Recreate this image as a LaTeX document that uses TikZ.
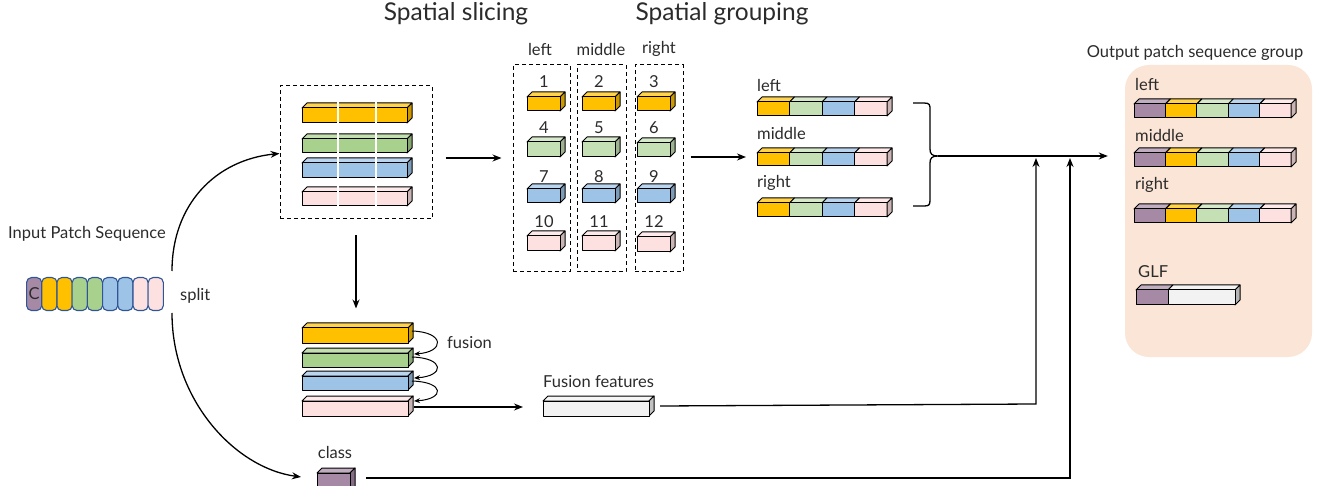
\documentclass[tikz,border=0pt]{standalone}
\usepackage{fontspec}
\setmainfont{Lato}
\usetikzlibrary{arrows.meta,fit}
\definecolor{cY}{HTML}{FFC000}
\definecolor{cG}{HTML}{A9D18E}
\definecolor{cGl}{HTML}{C5E0B4}
\definecolor{cB}{HTML}{9DC3E6}
\definecolor{cP}{HTML}{FDE1E1}
\definecolor{cU}{HTML}{A68AA5}
\definecolor{cW}{HTML}{F2F2F2}
\definecolor{panel}{HTML}{FBE5D6}
\definecolor{pillb}{HTML}{2F5597}
\definecolor{txt}{HTML}{2B2B2B}
\tikzset{
  cubeline/.style={draw=black, line width=1pt, line join=round},
  arr/.style={-{Stealth[length=9pt,width=7pt]}, line width=1.3pt},
  sarr/.style={-{Stealth[length=6pt,width=5pt]}, line width=1pt},
  dbox/.style={draw, line width=1pt, dash pattern=on 4pt off 3pt, inner sep=0pt},
  pill/.style={draw=pillb, line width=1.1pt, rounded corners=5pt, inner sep=0pt, minimum width=15.2pt, minimum height=33pt, anchor=north west},
  lbl/.style={font=\fontsize{16.5}{19}\selectfont, text=txt, inner sep=0pt},
}
% cuboid: name, x1, y1, x2, y2, colour
\newcommand{\cub}[6]{%
  \filldraw[cubeline, fill=#6!70!white] (#2,#3) -- (#2+5,#3-5) -- (#4+5,#3-5) -- (#4,#3) -- cycle;
  \filldraw[cubeline, fill=#6!80!black] (#4,#3) -- (#4+5,#3-5) -- (#4+5,#5-5) -- (#4,#5) -- cycle;
  \filldraw[cubeline, fill=#6] (#2,#3) rectangle (#4,#5);
  \node[inner sep=0pt, fit={(#2,#3) (#4+5,#5)}] (#1) {};
}
% segmented bar: name, x, y, segment width, height, colours
\newcommand{\segbar}[6]{%
  \foreach \c [count=\i from 0] in {#6}{%
    \pgfmathsetmacro\xa{#2+\i*#4}%
    \pgfmathsetmacro\xb{#2+(\i+1)*#4}%
    \filldraw[cubeline, fill=\c!70!white] (\xa,#3) -- (\xa+5,#3-5) -- (\xb+5,#3-5) -- (\xb,#3) -- cycle;
    \filldraw[cubeline, fill=\c] (\xa,#3) rectangle (\xb,#3+#5);
    \xdef\lastx{\xb}\xdef\lastc{\c}%
  }%
  \filldraw[cubeline, fill=\lastc!80!black] (\lastx,#3) -- (\lastx+5,#3-5) -- (\lastx+5,#3+#5-5) -- (\lastx,#3+#5) -- cycle;
  \node[inner sep=0pt, fit={(#2,#3) (\lastx+5,#3+#5)}] (#1) {};
}
\begin{document}
\begin{tikzpicture}[x=1pt,y=-1pt]
\useasboundingbox (0,0) rectangle (1320,486);

% titles
\node[lbl, font=\fontsize{24.5}{28}\selectfont] (t1) at (456,14) {Spatial slicing};
\node[lbl, font=\fontsize{24.5}{28}\selectfont] (t2) at (722,14) {Spatial grouping};

% input patch sequence
\node[lbl, anchor=west] (inlbl) at (8,234) {Input Patch Sequence};
\foreach \c [count=\i from 0] in {cU,cY,cY,cG,cG,cB,cB,cP,cP}{
  \node[pill, fill=\c] (p\i) at (26+\i*15.2,277) {};
}
\node[lbl] (cl) at (p0.center) {C};
\node[lbl, anchor=west] (split) at (180,296) {split};

% spatial slicing box
\node[dbox, fit={(280,86) (432,219)}] (slice) {};
\cub{s1}{302}{108}{407}{123}{cY}
\cub{s2}{302}{139}{407}{153}{cG}
\cub{s3}{302}{163}{407}{178}{cB}
\cub{s4}{302}{192}{407}{206}{cP}
\draw[white, line width=2.5pt] (338,102) -- (338,207) (376,102) -- (376,207);

% split arrows
\coordinate (su) at (172,271);
\coordinate (sd) at (172,313);
\draw[arr] (su) .. controls (172,205) and (215,160) .. ([yshift=-0.5pt]slice.west |- 0,153);
\coordinate (classin) at (301,477);
\draw[arr] (sd) .. controls (172,400) and (235,468) .. (classin);

% grouping columns
\node[lbl] (hl) at (540,49) {left};
\node[lbl] (hm) at (601,49) {middle};
\node[lbl] (hr) at (659,49) {right};
\node[dbox, fit={(513,65) (570,272)}] (colL) {};
\node[dbox, fit={(577,65) (626,272)}] (colM) {};
\node[dbox, fit={(635,65) (683,272)}] (colR) {};
\node[lbl] at (544,82) {1};
\node[lbl] at (599,82) {2};
\node[lbl] at (654,82) {3};
\node[lbl] at (544,128) {4};
\node[lbl] at (599,128) {5};
\node[lbl] at (654,128) {6};
\node[lbl] at (544,177) {7};
\node[lbl] at (599,177) {8};
\node[lbl] at (654,177) {9};
\node[lbl] at (544,222) {10};
\node[lbl] at (599,222) {11};
\node[lbl] at (654,222) {12};
\cub{b1}{527}{97}{560}{111}{cY}
\cub{b2}{582}{97}{615}{111}{cY}
\cub{b3}{637}{97}{670}{111}{cY}
\cub{b4}{527}{142}{560}{157}{cGl}
\cub{b5}{582}{142}{615}{157}{cGl}
\cub{b6}{637}{143}{670}{157}{cGl}
\cub{b7}{527}{189}{560}{203}{cB}
\cub{b8}{582}{189}{615}{203}{cB}
\cub{b9}{637}{189}{670}{203}{cB}
\cub{b10}{527}{236}{560}{251}{cP}
\cub{b11}{582}{236}{615}{251}{cP}
\cub{b12}{637}{237}{670}{252}{cP}

% arrows slice -> columns -> groups
\draw[arr] ([xshift=13pt]slice.east |- 0,158) -- ([xshift=-11pt]colL.west |- 0,158);
\draw[arr] ([xshift=7pt]colR.east |- 0,157) -- (746,157);

% grouped bars
\node[lbl, anchor=west] (gl) at (757,85) {left};
\node[lbl, anchor=west] (gm) at (757,133) {middle};
\node[lbl, anchor=west] (gr) at (757,183) {right};
\segbar{g1}{757}{102}{32.5}{14}{cY,cGl,cB,cP}
\segbar{g2}{757}{153}{32.5}{13}{cY,cGl,cB,cP}
\segbar{g3}{757}{203}{32.5}{14}{cY,cGl,cB,cP}

% brace
\coordinate (bt) at (938,156);
\draw[line width=1.3pt] (913,103) -- (924,103) .. controls (930,103) and (930,105) .. (930,110) -- (930,149)
  .. controls (930,154) and (932,156) .. (bt) .. controls (932,156) and (930,158) .. (930,163) -- (930,200)
  .. controls (930,205) and (929,206) .. (924,206) -- (913,206);

% output panel
\node[lbl, font=\fontsize{16.5}{19}\selectfont] (olbl) at (1195,53) {Output patch sequence group};
\node[fill=panel, rounded corners=24pt, inner sep=0pt, fit={(1125,65) (1312,357)}] (out) {};
\node[lbl, anchor=west] (ol) at (1135,84) {left};
\node[lbl, anchor=west] (om) at (1135,135) {middle};
\node[lbl, anchor=west] (or) at (1135,185) {right};
\node[lbl, anchor=west] (og) at (1138,272) {GLF};
\segbar{o1}{1134}{104}{31.4}{14}{cU,cY,cGl,cB,cP}
\segbar{o2}{1134}{153}{31.4}{14}{cU,cY,cGl,cB,cP}
\segbar{o3}{1134}{209}{31.4}{14}{cU,cY,cGl,cB,cP}
\filldraw[cubeline, fill=cU!70!white] (1136,290) -- (1141,285) -- (1173,285) -- (1168,290) -- cycle;
\filldraw[cubeline, fill=cW!85!white] (1168,290) -- (1173,285) -- (1240,285) -- (1235,290) -- cycle;
\filldraw[cubeline, fill=cW!75!black] (1235,290) -- (1240,285) -- (1240,300) -- (1235,305) -- cycle;
\filldraw[cubeline, fill=cU] (1136,290) rectangle (1168,305);
\filldraw[cubeline, fill=cW] (1168,290) rectangle (1235,305);
\node[inner sep=0pt, fit={(1136,285) (1240,305)}] (glf) {};

% main arrow into output
\draw[arr] (bt) -- ([xshift=-17pt]out.west |- bt);

% slicing -> fusion stack
\draw[arr] ([yshift=-16pt]slice.south) -- ([yshift=-89pt]slice.south);
\cub{f1}{302}{328}{408}{343}{cY}
\cub{f2}{302}{353}{408}{367}{cG}
\cub{f3}{302}{376}{408}{390}{cB}
\cub{f4}{302}{401}{408}{416}{cP}
\draw[sarr] (412,331) .. controls (445,332) and (445,352) .. (414,354);
\draw[sarr] (412,357) .. controls (445,358) and (445,376) .. (414,378);
\draw[sarr] (412,381) .. controls (445,382) and (445,399) .. (414,401);
\node[lbl, anchor=west] (fus) at (447,343) {fusion};
\draw[arr] ([xshift=1pt]f4.east |- 0,407) -- (523,407);

% fusion features
\node[lbl, anchor=west] (ffl) at (543,382) {Fusion features};
\cub{ff}{543}{401}{649}{416}{cW}
\coordinate (j1) at (1036,404);
\draw[arr] ([xshift=6pt]ff.east |- 0,406) -- (j1) -- (1036,158);

% class token
\node[lbl] (clsl) at (335,452) {class};
\cub{cls}{317}{473}{350}{492}{cU}
\coordinate (j2) at (1070,478);
\draw[arr] ([xshift=11pt]cls.east |- 0,478) -- (j2) -- (1070,158);
\end{tikzpicture}
\end{document}
